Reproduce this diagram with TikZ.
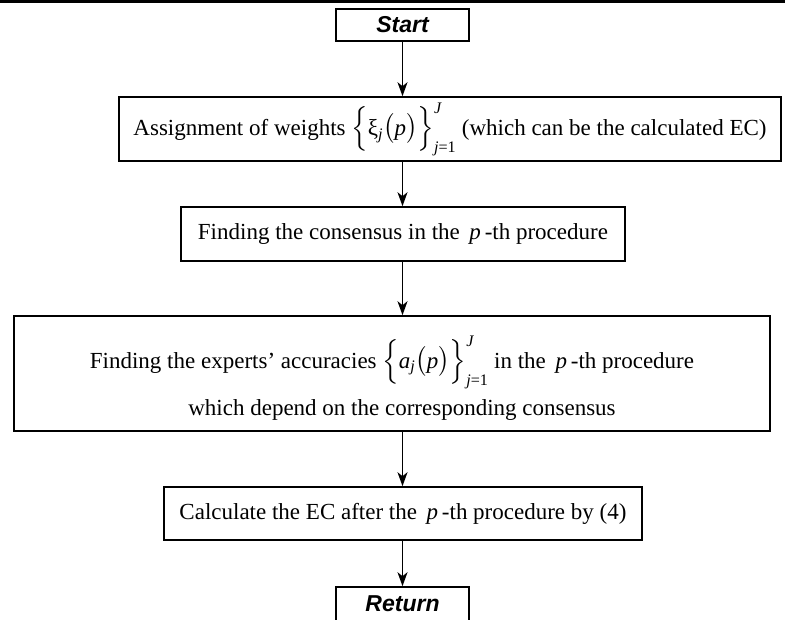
\documentclass[tikz,border=0pt]{standalone}
\usepackage{amsmath}
\usepackage{fontspec}
\setmainfont{Liberation Serif}
\setsansfont{Liberation Sans}
\usetikzlibrary{arrows.meta}
\newcommand{\mi}[1]{\text{\itshape #1}}
\newcommand{\mr}[1]{\text{#1}}
\begin{document}
\begin{tikzpicture}[x=1pt,y=-1pt,
  box/.style={draw, line width=1.6pt, inner sep=0pt, align=center,
    font=\fontsize{23}{28}\selectfont},
  txt/.style={inner sep=0pt, font=\fontsize{23}{28}\selectfont},
  term/.style={box, font=\sffamily\bfseries\itshape\fontsize{23}{27}\selectfont},
  arr/.style={-{Stealth[length=14pt,width=10pt,inset=4pt]}, line width=1.3pt}]
\useasboundingbox (0,0) rectangle (785,619);
\coordinate (tl) at (0,1.5);
\coordinate (tr) at (785,1.5);
\draw[line width=3pt] (tl) -- (tr);
\node[term, minimum width=133pt, minimum height=32pt] (start) at (402.5,25) {Start};
\node[box, minimum width=662pt, minimum height=64pt] (assign) at (450,129)
  {Assignment of weights $\Bigl\{\mr{ξ}_{\mi{j}}\bigl(\mi{p}\bigr)\Bigr\}_{\mi{j}\mr{=1}}^{\mi{J}}$ (which can be the calculated EC)};
\node[box, minimum width=444pt, minimum height=54pt] (cons) at (403,234)
  {Finding the consensus in the \,$\mi{p}$\,-th procedure};
\node[box, minimum width=756pt, minimum height=115pt] (acc) at (392,373.5) {};
\node[txt] (acc1) at (392,362)
  {Finding the experts’ accuracies $\Bigl\{\mi{a}_{\mi{j}}\bigl(\mi{p}\bigr)\Bigr\}_{\mi{j}\mr{=1}}^{\mi{J}}$ in the \,$\mi{p}$\,-th procedure};
\node[txt] (acc2) at (402,410) {which depend on the corresponding consensus};
\node[box, minimum width=478pt, minimum height=53pt] (calc) at (403,513.5)
  {Calculate the EC after the \,$\mi{p}$\,-th procedure by (4)};
\node[term, minimum width=133pt, minimum height=34pt] (ret) at (402.5,604) {Return};
\draw[arr] (start.south) -- (start.south |- assign.north);
\draw[arr] (start.south |- assign.south) -- (start.south |- cons.north);
\draw[arr] (start.south |- cons.south) -- (start.south |- acc.north);
\draw[arr] (start.south |- acc.south) -- (start.south |- calc.north);
\draw[arr] (start.south |- calc.south) -- (ret.north);
\end{tikzpicture}
\end{document}
